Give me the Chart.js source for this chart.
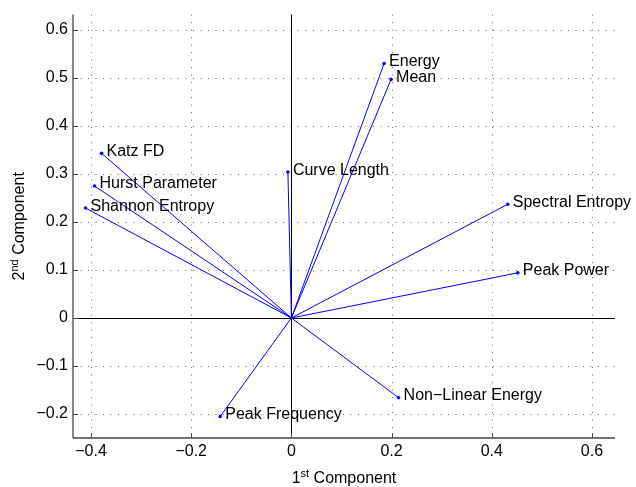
<!DOCTYPE html>
<html>
<head>
<meta charset="utf-8">
<script src="https://cdn.jsdelivr.net/npm/chart.js@4.4.1/dist/chart.umd.min.js"></script>
<style>
  html,body{margin:0;padding:0;background:#fff;}
  #wrap{width:636px;height:487px;}
</style>
</head>
<body>
<div id="wrap"><canvas id="biplot" width="636" height="487"></canvas></div>
<script>
// ── DATA ──
const features = ['Energy','Mean','Katz FD','Curve Length','Hurst Parameter','Shannon Entropy',
                  'Spectral Entropy','Peak Power','Non\u2212Linear Energy','Peak Frequency'];
const pc1 = [0.185, 0.199, -0.379, -0.007, -0.393, -0.411, 0.432, 0.452, 0.214, -0.142];
const pc2 = [0.530, 0.497,  0.343,  0.304,  0.275,  0.229, 0.237, 0.094, -0.166, -0.205];

const xTicks = [-0.4, -0.2, 0, 0.2, 0.4, 0.6];
const xTickLabels = ['\u22120.4','\u22120.2','0','0.2','0.4','0.6'];
const yTicks = [-0.2, -0.1, 0, 0.1, 0.2, 0.3, 0.4, 0.5, 0.6];
const yTickLabels = ['\u22120.2','\u22120.1','0','0.1','0.2','0.3','0.4','0.5','0.6'];

const FONT = "'Liberation Sans', Arial, Helvetica, sans-serif";
const BLUE = '#0000ff';
const el = id => document.getElementById(id);

function seg(ctx,x1,y1,x2,y2){ ctx.beginPath(); ctx.moveTo(x1,y1); ctx.lineTo(x2,y2); ctx.stroke(); }

// grid, zero lines, labels, box, inward ticks, axis titles
const overlay = {
  id:'overlay',
  beforeDatasetsDraw(chart){
    const {ctx, chartArea:a, scales:{x,y}} = chart;
    ctx.save();
    ctx.strokeStyle='#666'; ctx.lineWidth=1; ctx.setLineDash([1,6.5]);
    x.ticks.forEach(t=>{ const p=Math.round(x.getPixelForValue(t.value))+0.5; seg(ctx,p,a.top,p,a.bottom); });
    y.ticks.forEach(t=>{ const p=Math.round(y.getPixelForValue(t.value))+0.5; seg(ctx,a.left,p,a.right,p); });
    ctx.setLineDash([]);
    ctx.strokeStyle='#000';
    const x0=Math.round(x.getPixelForValue(0))+0.5, y0=Math.round(y.getPixelForValue(0))+0.5;
    seg(ctx,x0,a.top,x0,a.bottom);
    seg(ctx,a.left,y0,a.right,y0);
    ctx.restore();
  },
  afterDatasetsDraw(chart){
    const {ctx, chartArea:a, scales:{x,y}} = chart;
    ctx.save();
    // feature labels
    ctx.fillStyle='#000'; ctx.font='16px '+FONT; ctx.textAlign='left'; ctx.textBaseline='alphabetic';
    features.forEach((f,i)=>{
      ctx.fillText(f, x.getPixelForValue(pc1[i])+5, y.getPixelForValue(pc2[i])+2.5);
    });
    // left + bottom axis
    ctx.strokeStyle='#444'; ctx.lineWidth=1.3;
    seg(ctx,a.left,a.top,a.left,a.bottom);
    seg(ctx,a.left,a.bottom,a.right,a.bottom);
    ctx.lineWidth=1;
    x.ticks.forEach(t=>{ const p=Math.round(x.getPixelForValue(t.value))+0.5; seg(ctx,p,a.bottom,p,a.bottom-5); });
    y.ticks.forEach(t=>{ const p=Math.round(y.getPixelForValue(t.value))+0.5; seg(ctx,a.left,p,a.left+5,p); });
    // axis titles with superscripts
    const title = (main,sup,cx,cy,rot)=>{
      ctx.save(); ctx.translate(cx,cy); ctx.rotate(rot);
      ctx.font='16px '+FONT; const w1=ctx.measureText(main[0]).width;
      ctx.font='11px '+FONT; const w2=ctx.measureText(sup).width;
      ctx.font='16px '+FONT; const w3=ctx.measureText(' '+main[1]).width;
      let sx=-(w1+w2+w3)/2;
      ctx.textAlign='left'; ctx.fillStyle='#000';
      ctx.fillText(main[0],sx,0); sx+=w1;
      ctx.font='11px '+FONT; ctx.fillText(sup,sx,-6); sx+=w2;
      ctx.font='16px '+FONT; ctx.fillText(' '+main[1],sx,0);
      ctx.restore();
    };
    title(['1','Component'],'st',(a.left+a.right)/2,483,0);
    title(['2','Component'],'nd',24,(a.top+a.bottom)/2,-Math.PI/2);
    ctx.restore();
  }
};

const datasets = features.map((f,i)=>({
  label:f,
  data:[{x:0,y:0},{x:pc1[i],y:pc2[i]}],
  showLine:true, borderColor:BLUE, borderWidth:1,
  pointRadius:[0,1.8], pointBackgroundColor:BLUE, pointBorderWidth:0
}));

new Chart(el('biplot').getContext('2d'),{
  type:'scatter',
  data:{datasets},
  plugins:[overlay],
  options:{
    responsive:false, animation:false, events:[],
    layout:{padding:{left:0,right:21,top:11,bottom:0}},
    plugins:{legend:{display:false},tooltip:{enabled:false}},
    scales:{
      x:{type:'linear',min:-0.436,max:0.646,
         grid:{display:false,drawTicks:false},border:{display:false},
         afterBuildTicks:s=>{ s.ticks=xTicks.map(v=>({value:v})); },
         afterFit:s=>{ s.height=49; },
         ticks:{color:'#000',padding:4,maxRotation:0,autoSkip:false,font:{family:FONT,size:16},
                callback:v=>xTickLabels[xTicks.indexOf(v)]}},
      y:{type:'linear',min:-0.25,max:0.632,
         grid:{display:false,drawTicks:false},border:{display:false},
         afterBuildTicks:s=>{ s.ticks=yTicks.map(v=>({value:v})); },
         afterFit:s=>{ s.width=73; },
         ticks:{color:'#000',padding:5,autoSkip:false,font:{family:FONT,size:16},
                callback:v=>yTickLabels[yTicks.indexOf(v)]}}
    }
  }
});
</script>
</body>
</html>
